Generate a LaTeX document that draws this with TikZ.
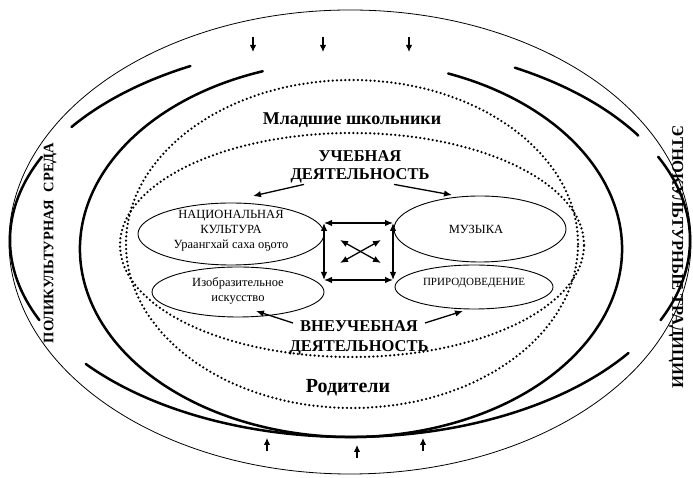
\documentclass[tikz,border=0pt]{standalone}
\usepackage{fontspec}
\setmainfont{Liberation Serif}
\usetikzlibrary{arrows.meta,shapes.geometric}

\begin{document}
\begin{tikzpicture}[x=1pt,y=1pt,
    thickline/.style={line width=2.5pt, line cap=round},
    thinline/.style={line width=0.8pt},
    dots/.style={line width=2.5pt, line cap=round, dash pattern=on 0pt off 4.2pt},
    ell/.style={draw, ellipse, line width=0.9pt, inner sep=0pt},
    arr/.style={line width=1.3pt, -{Latex[length=8pt,width=6.5pt]}},
    darr/.style={line width=1.3pt, {Latex[length=8pt,width=6.5pt]}-{Latex[length=8pt,width=6.5pt]}},
    smallarr/.style={line width=1.1pt, -{Latex[length=7pt,width=6.5pt]}},
    etxt/.style={align=center, inner sep=0pt, font=\fontsize{12.5}{15}\selectfont},
    head/.style={align=center, inner sep=1pt, font=\bfseries\fontsize{16.5}{18}\selectfont},
    side/.style={inner sep=0pt, font=\bfseries\fontsize{14.5}{16}\selectfont}]
\useasboundingbox (0,0) rectangle (693,478);

% outer thin ellipse
\draw[thinline] (350,236) ellipse [x radius=341pt, y radius=232pt];

% outer thick ellipse (pieces)
\foreach \a/\b in {118/145, 155/204, 219/325, 336/385, 32/61}
  \draw[thickline] (350,238) ++(\a:340pt and 197pt) arc[start angle=\a, end angle=\b, x radius=340pt, y radius=197pt];

% inner thick ellipse, open at the top
\draw[thickline] (351,229) ++(109:271pt and 188pt) arc[start angle=109, end angle=429, x radius=271pt, y radius=188pt];

% dotted ellipses
\draw[dots] (352,234) ellipse [x radius=226pt, y radius=164pt];
\draw[dots] (352,233) ellipse [x radius=232pt, y radius=112pt];

% arrows in and out
\foreach \x in {253,323,409}
  \draw[smallarr] (\x,441) -- (\x,426);
\foreach \x/\y in {267/27,357/20,423/27}
  \draw[smallarr] (\x,\y) -- (\x,\y+13);

% side texts
\node[side, rotate=90] (poly) at (50,235) {ПОЛИКУЛЬТУРНАЯ\ \ СРЕДА};
\node[side, rotate=-90, font=\bfseries\fontsize{16.5}{18}\selectfont] (etno) at (676,221) {ЭТНОКУЛЬТУРНЫЕ ТРАДИЦИИ};

% groups
\node[font=\bfseries\fontsize{18}{20}\selectfont, anchor=base] (pupils) at (352,353) {Младшие школьники};
\node[font=\bfseries\fontsize{20}{22}\selectfont, anchor=base] (parents) at (348,85) {Родители};
\node[head] (uch) at (360,311) {УЧЕБНАЯ\\ДЕЯТЕЛЬНОСТЬ};
\node[head, font=\bfseries\fontsize{16.5}{20}\selectfont] (vne) at (359,140) {ВНЕУЧЕБНАЯ\\ДЕЯТЕЛЬНОСТЬ};

% subjects
\node[ell, minimum width=186pt, minimum height=62pt] (nk) at (231,244) {};
\node[etxt] (nkT) at ([yshift=3pt]nk.center) {НАЦИОНАЛЬНАЯ\\КУЛЬТУРА\\Ураангхай саха оҕото};
\node[ell, minimum width=172pt, minimum height=50pt] (izo) at (238,186) {};
\node[etxt] (izoT) at ([yshift=1pt]izo.center) {Изобразительное\\искусство};
\node[ell, minimum width=172pt, minimum height=66pt] (muz) at (480,249) {};
\node[etxt] (muzT) at ([xshift=-4pt]muz.center) {МУЗЫКА};
\node[ell, minimum width=158pt, minimum height=44pt] (prir) at (474,191) {};
\node[etxt, font=\fontsize{11}{13}\selectfont] (prirT) at ([yshift=4pt]prir.center) {ПРИРОДОВЕДЕНИЕ};

% links between subjects
\coordinate (sqNW) at (324,255);
\coordinate (sqNE) at (393,255);
\coordinate (sqSW) at (324,198);
\coordinate (sqSE) at (393,198);
\draw[darr] (sqNW) -- (sqNE);
\draw[darr] (sqSW) -- (sqSE);
\draw[darr] (sqNW) -- (sqSW);
\draw[darr] (sqNE) -- (sqSE);
\coordinate (xA) at (340,238);
\coordinate (xB) at (381,215);
\coordinate (xC) at (381,238);
\coordinate (xD) at (340,215);
\draw[darr] (xA) -- (xB);
\draw[darr] (xC) -- (xD);

% activities to subjects
\draw[arr] ([xshift=-56pt]uch.south) -- ([shift={(22pt,38pt)}]nk.center);
\draw[arr] ([xshift=34pt]uch.south) -- ([shift={(-28pt,34pt)}]muz.center);
\draw[arr] ([shift={(-66pt,15pt)}]vne.center) -- ([shift={(18pt,-19pt)}]izo.center);
\draw[arr] ([shift={(66pt,15pt)}]vne.center) -- ([shift={(-11pt,-24pt)}]prir.center);
\end{tikzpicture}
\end{document}
